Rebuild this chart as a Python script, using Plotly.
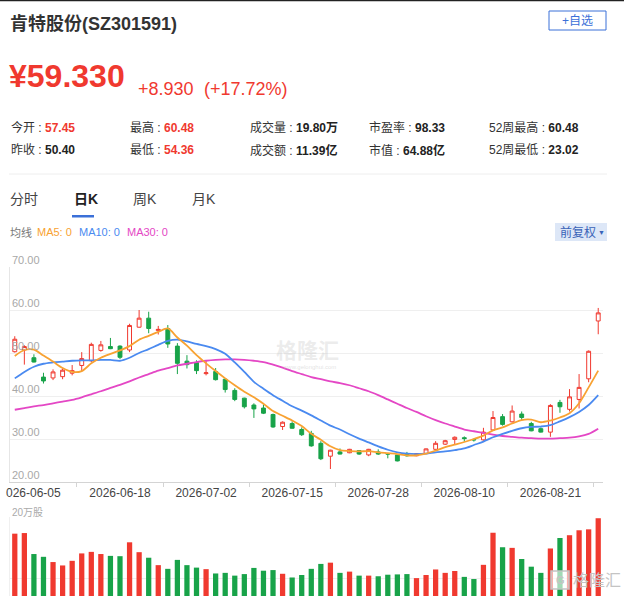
import plotly.graph_objects as go

# ---------------- data ----------------
opens = [50.3, 50.7, 48.9, 44.4, 44.2, 44.5, 45.3, 47.1, 48.2, 50.6,
         51.5, 51.6, 50.7, 56.0, 58.1, 55.2, 55.7, 51.6, 48.1, 47.8,
         45.2, 45.7, 43.9, 41.3, 39.5, 37.9, 37.2, 35.7, 32.9, 33.6,
         32.2, 31.3, 29.0, 26.0, 27.0, 26.8, 27.3, 26.3, 27.0, 26.6,
         26.3, 26.5, 26.1, 26.6, 27.6, 28.8, 29.9, 30.3, 29.9, 29.8,
         32.1, 35.2, 34.0, 35.8, 33.6, 32.4, 31.6, 38.5, 36.9, 39.2,
         44.0, 57.45]
highs = [53.9, 51.8, 49.7, 45.4, 46.2, 46.4, 47.2, 50.2, 52.4, 52.8,
         53.5, 51.8, 56.8, 60.0, 59.6, 56.3, 56.5, 52.3, 49.5, 48.3,
         48.3, 46.5, 44.0, 41.8, 39.6, 38.3, 38.0, 35.9, 34.1, 34.1,
         32.7, 31.9, 29.5, 27.5, 27.8, 27.7, 27.4, 27.7, 27.6, 26.6,
         26.5, 27.0, 26.7, 27.8, 29.5, 29.8, 30.6, 30.6, 30.1, 32.6,
         36.5, 35.8, 37.8, 36.4, 34.0, 32.7, 38.1, 39.1, 41.6, 45.1,
         50.6, 60.48]
lows = [50.1, 47.3, 47.8, 42.9, 43.7, 43.9, 44.8, 45.8, 47.9, 50.3,
        50.9, 48.6, 50.2, 55.9, 54.6, 54.3, 51.2, 45.1, 46.4, 45.1,
        44.8, 43.6, 40.8, 38.8, 37.1, 34.9, 35.8, 32.6, 32.1, 32.4,
        30.7, 28.2, 25.1, 23.02, 26.4, 26.7, 26.3, 26.0, 26.3, 25.5,
        24.8, 25.9, 26.0, 26.5, 27.5, 28.6, 28.8, 29.4, 29.4, 29.6,
        32.0, 33.1, 33.8, 34.4, 31.8, 31.5, 30.5, 36.1, 36.4, 37.1,
        43.2, 54.36]
closes = [53.2, 51.5, 47.9, 43.5, 45.6, 46.0, 45.9, 48.7, 52.0, 51.9,
          51.0, 49.0, 56.4, 58.1, 55.7, 55.5, 52.1, 47.6, 47.3, 45.9,
          45.4, 43.8, 41.5, 39.2, 37.5, 37.0, 36.0, 32.8, 33.9, 32.5,
          31.0, 28.4, 25.4, 27.4, 26.5, 27.6, 26.5, 27.6, 26.5, 26.5,
          24.9, 26.1, 26.6, 27.7, 29.0, 29.6, 30.4, 30.1, 29.8, 31.6,
          35.0, 33.4, 36.5, 35.0, 31.9, 31.6, 37.8, 37.5, 39.8, 42.0,
          50.4, 59.33]
volumes = [17.3, 17.4, 14.0, 13.55, 12.7, 12.15, 12.9, 14.1, 14.35, 14.0,
           13.7, 13.65, 15.9, 14.3, 13.4, 12.2, 11.6, 13.05, 12.2, 11.8,
           11.55, 10.85, 10.95, 10.5, 10.75, 11.75, 11.3, 11.4, 10.8, 10.2,
           10.6, 11.6, 12.4, 12.6, 10.95, 11.15, 10.5, 10.5, 10.4, 10.65,
           10.7, 10.75, 10.1, 10.6, 11.5, 10.95, 11.25, 10.3, 9.95, 12.25,
           17.45, 15.1, 15.0, 13.2, 11.95, 10.95, 14.9, 16.6, 17.05, 17.85,
           18.0, 19.8]
ma5 = [49.3, 50.7, 50.8, 49.4, 48.0, 46.5, 45.6, 45.8, 47.6, 48.9,
       49.8, 50.6, 51.6, 53.1, 54.0, 54.9, 55.7, 53.6, 51.7, 49.5,
       47.6, 45.8, 44.1, 42.5, 41.0, 39.7, 38.2, 36.5, 35.4, 34.3,
       33.0, 31.2, 29.8, 28.3, 27.4, 27.2, 27.1, 27.2, 26.9, 26.7,
       26.5, 26.2, 26.2, 26.6, 27.3, 28.1, 28.7, 29.3, 30.0, 30.8,
       32.0, 32.7, 33.6, 34.4, 34.5, 33.9, 34.3, 35.0, 36.0, 38.3,
       42.0, 45.9]
ma10 = [44.1, 45.6, 46.8, 47.5, 47.8, 48.0, 48.2, 48.3, 48.3, 48.4,
        48.4, 48.2, 48.9, 50.0, 50.9, 51.9, 52.8, 53.1, 52.7, 52.1,
        51.6, 50.9, 49.8, 47.8, 45.6, 43.3, 41.7, 40.2, 38.9, 37.6,
        36.6, 35.5, 34.3, 33.1, 32.2, 31.1, 30.1, 29.2, 28.3, 27.5,
        26.9, 26.6, 26.5, 26.6, 26.9, 27.1, 27.4, 27.8, 28.6, 29.4,
        30.4, 31.2, 31.9, 32.5, 32.8, 32.9, 33.2, 34.1, 35.1, 36.3,
        37.9, 40.2]
ma30 = [36.8, 37.2, 37.6, 37.9, 38.3, 38.7, 39.1, 39.7, 40.4, 41.1,
        41.9, 42.6, 43.4, 44.3, 45.1, 45.9, 46.5, 47.1, 47.5, 47.9,
        48.2, 48.4, 48.5, 48.5, 48.4, 48.2, 47.9, 47.3, 46.6, 45.8,
        45.1, 44.4, 43.9, 43.4, 43.0, 42.5, 41.8, 41.1, 40.2, 39.2,
        38.2, 37.2, 36.3, 35.3, 34.4, 33.6, 32.9, 32.2, 31.8, 31.4,
        31.0, 30.7, 30.5, 30.3, 30.2, 30.1, 30.1, 30.2, 30.3, 30.6,
        31.2, 32.4]
tick_index = [2, 11, 20, 29, 38, 47, 56]
tick_labels = ["2026-06-05", "2026-06-18", "2026-07-02", "2026-07-15",
               "2026-07-28", "2026-08-10", "2026-08-21"]
price_ticks = [20, 30, 40, 50, 60, 70]

# ---------------- style ----------------
RED = "#f0392f"
GREEN = "#18a349"
C_MA5 = "#f8a232"
C_MA10 = "#4a8af0"
C_MA30 = "#e447c5"
BLUE = "#3b70d8"
FONT = "Liberation Sans, Arial, Noto Sans CJK SC, sans-serif"

W, H = 624, 596
L, R, T, B = 10, 21, 267, 0
PW, PH = W - L - R, H - T - B


def px(xp):
    return (xp - L) / PW


def py(yp):
    return (H - B - yp) / PH


n = len(closes)
xs = list(range(n))
vol_colors = [RED if c >= o else GREEN for o, c in zip(opens, closes)]

fig = go.Figure()

fig.add_trace(go.Candlestick(
    x=xs, open=opens, high=highs, low=lows, close=closes,
    increasing=dict(line=dict(color=RED, width=1), fillcolor="white"),
    decreasing=dict(line=dict(color=GREEN, width=1), fillcolor=GREEN),
    whiskerwidth=0, hoverinfo="skip", showlegend=False,
    xaxis="x", yaxis="y"))

for vals, col in [(ma30, C_MA30), (ma10, C_MA10), (ma5, C_MA5)]:
    fig.add_trace(go.Scatter(
        x=xs, y=vals, mode="lines",
        line=dict(color=col, width=1.8, shape="spline", smoothing=0.8),
        hoverinfo="skip", showlegend=False, xaxis="x", yaxis="y"))

fig.add_trace(go.Bar(
    x=xs, y=volumes, marker=dict(color=vol_colors, line=dict(width=0)),
    hoverinfo="skip", showlegend=False, xaxis="x2", yaxis="y2"))

price_bottom = py(482)
vol_top = py(517)

fig.update_layout(
    width=W, height=H,
    margin=dict(l=L, r=R, t=T, b=B, pad=0),
    paper_bgcolor="white", plot_bgcolor="white",
    font=dict(family=FONT, color="#333"),
    boxgap=0.42, bargap=0.45,
    showlegend=False,
    xaxis=dict(
        domain=[0, 1], range=[-0.5, n - 0.5], anchor="y",
        tickmode="array", tickvals=tick_index[1:], ticktext=tick_labels[1:],
        ticks="", showgrid=False, zeroline=False,
        showline=True, linecolor="#d4d4d4", linewidth=1,
        tickfont=dict(size=12, color="#444", family=FONT),
        minor=dict(tickmode="array",
                   tickvals=[i + 4.5 for i in tick_index],
                   ticks="outside", ticklen=4, tickcolor="#d4d4d4",
                   showgrid=False),
        rangeslider=dict(visible=False), fixedrange=True,
    ),
    yaxis=dict(
        domain=[price_bottom, 1], range=[20, 70], anchor="x",
        tickmode="array", tickvals=price_ticks, showticklabels=False,
        showgrid=True, gridcolor="#efefef", gridwidth=1, zeroline=False,
        showline=True, linecolor="#e6e6e6", ticks="", fixedrange=True,
    ),
    xaxis2=dict(
        domain=[0, 1], range=[-0.5, n - 0.5], anchor="y2",
        showticklabels=False, ticks="", showgrid=False, zeroline=False,
        showline=False, fixedrange=True,
    ),
    yaxis2=dict(
        domain=[0, vol_top], range=[7.2, 20.0], anchor="x2",
        tickmode="array", tickvals=[10, 20], showticklabels=False,
        showgrid=True, gridcolor="#eeeeee", zeroline=False,
        showline=True, linecolor="#f0f0f0", ticks="", fixedrange=True,
    ),
)

ann = []
shapes = []


def text(x, y, s, size, color, xanchor="left", bold=False, fam=FONT):
    ann.append(dict(
        xref="paper", yref="paper", x=px(x), y=py(y),
        text=("<b>%s</b>" % s) if bold else s, showarrow=False,
        xanchor=xanchor, yanchor="middle",
        font=dict(size=size, color=color, family=fam)))


# price axis labels (inside, above each gridline)
for v in price_ticks:
    ann.append(dict(xref="paper", yref="y", x=0, y=v, text="%.2f" % v,
                    showarrow=False, xanchor="left", yanchor="bottom",
                    xshift=0, yshift=-1,
                    font=dict(size=11, color="#a8a8a8", family=FONT)))

# top dark line
shapes.append(dict(type="line", xref="paper", yref="paper",
                   x0=px(0), x1=px(W), y0=py(0.5), y1=py(0.5),
                   line=dict(color="#222", width=1.5)))

# title
text(8, 24, "肯特股份(SZ301591)", 18, "#333", bold=True)
# +自选 button
shapes.append(dict(type="rect", xref="paper", yref="paper",
                   x0=px(549), x1=px(606), y0=py(11), y1=py(30),
                   line=dict(color=BLUE, width=1), fillcolor="white"))
text(577.5, 20.5, "+自选", 12, BLUE, xanchor="center")

# price
text(7, 76, "¥59.330", 32, RED, bold=True)
text(136, 89, "+8.930", 18, RED)
text(202, 89, "(+17.72%)", 18, RED)

# stats
LBL = "#333"
VAL = "#222"
stats = [
    (9, 127, "今开", "57.45", RED), (128, 127, "最高", "60.48", RED),
    (248, 127, "成交量", "19.80万", VAL), (367, 127, "市盈率", "98.33", VAL),
    (487, 127, "52周最高", "60.48", VAL),
    (9, 150, "昨收", "50.40", VAL), (128, 150, "最低", "54.36", RED),
    (248, 150, "成交额", "11.39亿", VAL), (367, 150, "市值", "64.88亿", VAL),
    (487, 150, "52周最低", "23.02", VAL),
]
for x, y, lab, val, col in stats:
    text(x, y, "%s : <span style='color:%s'><b>%s</b></span>"
         % (lab, col, val), 12, LBL)

# separator
shapes.append(dict(type="line", xref="paper", yref="paper",
                   x0=px(9), x1=px(607), y0=py(174), y1=py(174),
                   line=dict(color="#eeeeee", width=1)))

# tabs
text(8, 199, "分时", 14, "#444")
text(72, 199, "日K", 14, "#222", bold=True)
text(131, 199, "周K", 14, "#444")
text(190, 199, "月K", 14, "#444")
shapes.append(dict(type="rect", xref="paper", yref="paper",
                   x0=px(72), x1=px(94), y0=py(215), y1=py(217.5),
                   line=dict(width=0), fillcolor=BLUE))

# MA legend row
text(8, 232, "均线", 11, "#777")
text(35, 232, "MA5: 0", 11, C_MA5)
text(77, 232, "MA10: 0", 11, C_MA10)
text(125, 232, "MA30: 0", 11, C_MA30)

# 前复权 button
shapes.append(dict(type="rect", xref="paper", yref="paper",
                   x0=px(555), x1=px(607), y0=py(223), y1=py(241),
                   line=dict(width=0), fillcolor="#dde7f7"))
text(558, 232, "前复权", 12, "#3a63b8")
text(596, 232, "▼", 7, "#3a63b8")

# first (clipped) x label
ann.append(dict(xref="x", yref="paper", x=tick_index[0], y=py(493),
                text="026-06-05", showarrow=False, xanchor="right",
                xshift=29, yanchor="middle",
                font=dict(size=12, color="#444", family=FONT)))

# volume unit label
text(10, 512, "20万股", 10, "#aaa")

# watermark
text(307, 350, "格隆汇", 21, "rgba(190,190,190,0.3)", xanchor="center",
     bold=True)
text(309, 367, "www.gelonghui.com", 6, "rgba(190,190,190,0.45)",
     xanchor="center")

# bottom-right logo
shapes.append(dict(type="rect", xref="paper", yref="paper",
                   x0=px(551), x1=px(569), y0=py(571), y1=py(589),
                   line=dict(color="#c4c4c4", width=1.5),
                   fillcolor="rgba(255,255,255,0.6)"))
text(560, 580, "G", 11, "#c4c4c4", xanchor="center", bold=True)
text(571, 580, "格隆汇", 16, "#c4c4c4")

fig.update_layout(annotations=ann, shapes=shapes)

fig.write_html("out.html", config={"displayModeBar": False},
               post_script="document.body.style.margin='0';"
                           "document.body.style.overflow='hidden';")
